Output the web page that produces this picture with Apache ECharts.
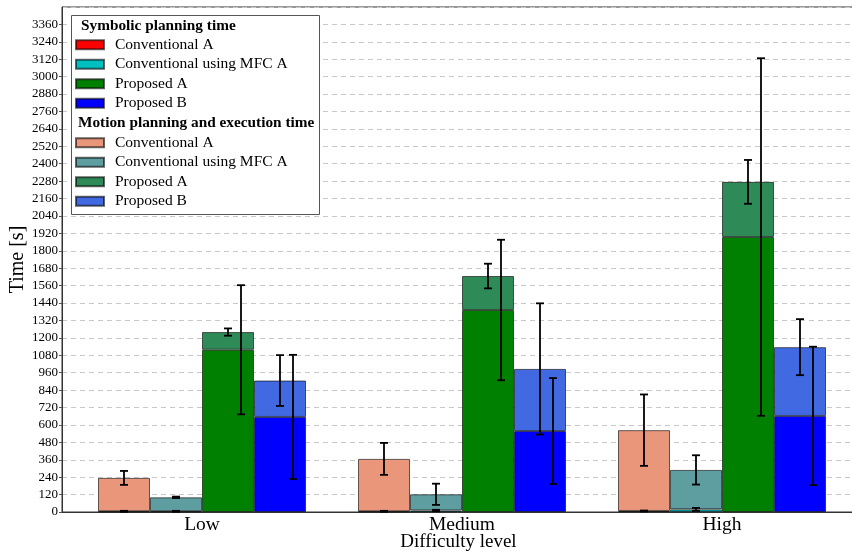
<!DOCTYPE html>
<html><head><meta charset="utf-8">
<script src="https://cdn.jsdelivr.net/npm/echarts@6/dist/echarts.min.js"></script>
<style>html,body{margin:0;padding:0;background:#fff}#c{width:852px;height:552px}</style>
</head><body><div id="c"></div>
<script>
// ---- data ----
const categories = ['Low', 'Medium', 'High'];
const methods = ['Conventional A', 'Conventional using MFC A', 'Proposed A', 'Proposed B'];
const yTicks = { min: 0, max: 3480, step: 120 };
// symbolic planning time (mean) per method, per difficulty
const symbolicMean = [
  [5, 5, 7],
  [5, 10, 18],
  [1118, 1392, 1895],
  [655, 558, 662]
];
const symbolicErr = [
  [3, 3, 3],
  [3, 5, 10],
  [445, 484, 1232],
  [428, 365, 477]
];
// motion planning and execution time (mean) per method, per difficulty
const motionMean = [
  [230, 361, 557],
  [96, 112, 272],
  [122, 234, 380],
  [251, 428, 474]
];
const motionErr = [
  [48, 110, 246],
  [5, 73, 101],
  [25, 85, 151],
  [175, 452, 193]
];

// ---- styles ----
const FONT = 'Liberation Serif';
const symColors = ['#ff0000', '#00bfbf', '#008000', '#0000ff'];
const motColors = ['#e9967a', '#5f9ea0', '#2e8b57', '#4169e1'];
const BAR_W = 52;

const series = [];
methods.forEach((m, k) => {
  series.push({
    name: 'sym|' + m, type: 'bar', stack: 's' + k, barWidth: BAR_W, barGap: '0%',
    xAxisIndex: 1, yAxisIndex: 1,
    itemStyle: { color: symColors[k], borderColor: 'rgba(0,0,0,0.6)', borderWidth: 1 },
    data: symbolicMean[k], z: 2
  });
});
methods.forEach((m, k) => {
  series.push({
    name: 'mot|' + m, type: 'bar', stack: 's' + k, barWidth: BAR_W, barGap: '0%',
    xAxisIndex: 1, yAxisIndex: 1,
    itemStyle: { color: motColors[k], borderColor: 'rgba(0,0,0,0.6)', borderWidth: 1 },
    data: motionMean[k], z: 2
  });
});

const errData = [];
methods.forEach((m, k) => {
  categories.forEach((c, i) => {
    const s = symbolicMean[k][i];
    errData.push([i, s - symbolicErr[k][i], s + symbolicErr[k][i], k, 1]);
    const t = s + motionMean[k][i];
    errData.push([i, t - motionErr[k][i], t + motionErr[k][i], k, 0]);
  });
});

series.push({
  type: 'custom', name: 'err', z: 10, silent: true,
  xAxisIndex: 1, yAxisIndex: 1,
  encode: { x: 0, y: [1, 2] },
  data: errData,
  renderItem(params, api) {
    const x = api.value(0), lo = api.value(1), hi = api.value(2), k = api.value(3), kind = api.value(4);
    const pLo = api.coord([x, lo]), pHi = api.coord([x, hi]);
    const cx = pLo[0] + (k - 1.5) * BAR_W + (kind === 1 && k >= 2 ? BAR_W / 4 : 0);
    const cap = 4;
    const st = { stroke: '#000', lineWidth: 1.8 };
    return {
      type: 'group', children: [
        { type: 'line', shape: { x1: cx, y1: pLo[1], x2: cx, y2: pHi[1] }, style: st },
        { type: 'line', shape: { x1: cx - cap, y1: pLo[1], x2: cx + cap, y2: pLo[1] }, style: st },
        { type: 'line', shape: { x1: cx - cap, y1: pHi[1], x2: cx + cap, y2: pHi[1] }, style: st }
      ]
    };
  }
});

const legendCommon = {
  orient: 'vertical', left: 75, padding: 0, itemGap: 0, itemWidth: 28, itemHeight: 9, icon: 'rect',
  formatter: n => n.split('|')[1],
  textStyle: { fontFamily: FONT, fontSize: 15.5, color: '#000', lineHeight: 19.5, padding: [0, 0, 0, 6] },
  selectedMode: false, z: 6
};

const chart = echarts.init(document.getElementById('c'));
chart.setOption({
  animation: false,
  backgroundColor: '#fff',
  grid: [
    { left: 62, right: -3, top: 7, bottom: 40, show: true, borderColor: '#333', borderWidth: 1, outerBoundsMode: 'none', containLabel: false },
    { left: 72, right: 0, top: 7, bottom: 40, outerBoundsMode: 'none', containLabel: false }
  ],
  xAxis: [
    {
      gridIndex: 0, type: 'value', min: 0, max: 1,
      name: 'Difficulty level', nameLocation: 'middle', nameGap: 21,
      nameTextStyle: { fontFamily: FONT, fontSize: 19, color: '#000' },
      axisLine: { show: true, lineStyle: { color: '#333' } },
      axisTick: { show: false }, splitLine: { show: false }, axisLabel: { show: false }
    },
    {
      gridIndex: 1, type: 'category', data: categories,
      axisLine: { show: false }, axisTick: { show: false }, splitLine: { show: false },
      axisLabel: { fontFamily: FONT, fontSize: 19.5, color: '#000', margin: 3 }
    }
  ],
  yAxis: [
    {
      gridIndex: 0, type: 'value', min: yTicks.min, max: yTicks.max, interval: yTicks.step,
      name: 'Time [s]', nameLocation: 'middle', nameGap: 34, nameMoveOverlap: false,
      nameTextStyle: { fontFamily: FONT, fontSize: 20, color: '#000' },
      axisLine: { show: true, lineStyle: { color: '#333' } },
      axisTick: { show: true, length: 3, lineStyle: { color: '#555' } },
      axisLabel: { fontFamily: FONT, fontSize: 13, color: '#000', margin: 4, showMaxLabel: false, formatter: v => String(v) },
      splitLine: { show: true, lineStyle: { color: '#c8c8c8', type: [5, 4], width: 1 } }
    },
    {
      gridIndex: 1, type: 'value', min: yTicks.min, max: yTicks.max, interval: yTicks.step,
      axisLine: { show: false }, axisTick: { show: false }, axisLabel: { show: false }, splitLine: { show: false }
    }
  ],
  legend: [
    Object.assign({}, legendCommon, { top: 35, data: methods.map(m => 'sym|' + m) }),
    Object.assign({}, legendCommon, { top: 133, data: methods.map(m => 'mot|' + m) })
  ],
  graphic: [
    { type: 'rect', z: 3, shape: { x: 71.5, y: 15.5, width: 248, height: 199 },
      style: { fill: '#fff', stroke: '#555', lineWidth: 1 } },
    { type: 'text', z: 7, x: 81, y: 26, style: { text: 'Symbolic planning time', font: 'bold 15.3px "Liberation Serif"', fill: '#000', verticalAlign: 'middle' } },
    { type: 'text', z: 7, x: 78, y: 123.5, style: { text: 'Motion planning and execution time', font: 'bold 15.3px "Liberation Serif"', fill: '#000', verticalAlign: 'middle' } }
  ],
  series
});
</script></body></html>
